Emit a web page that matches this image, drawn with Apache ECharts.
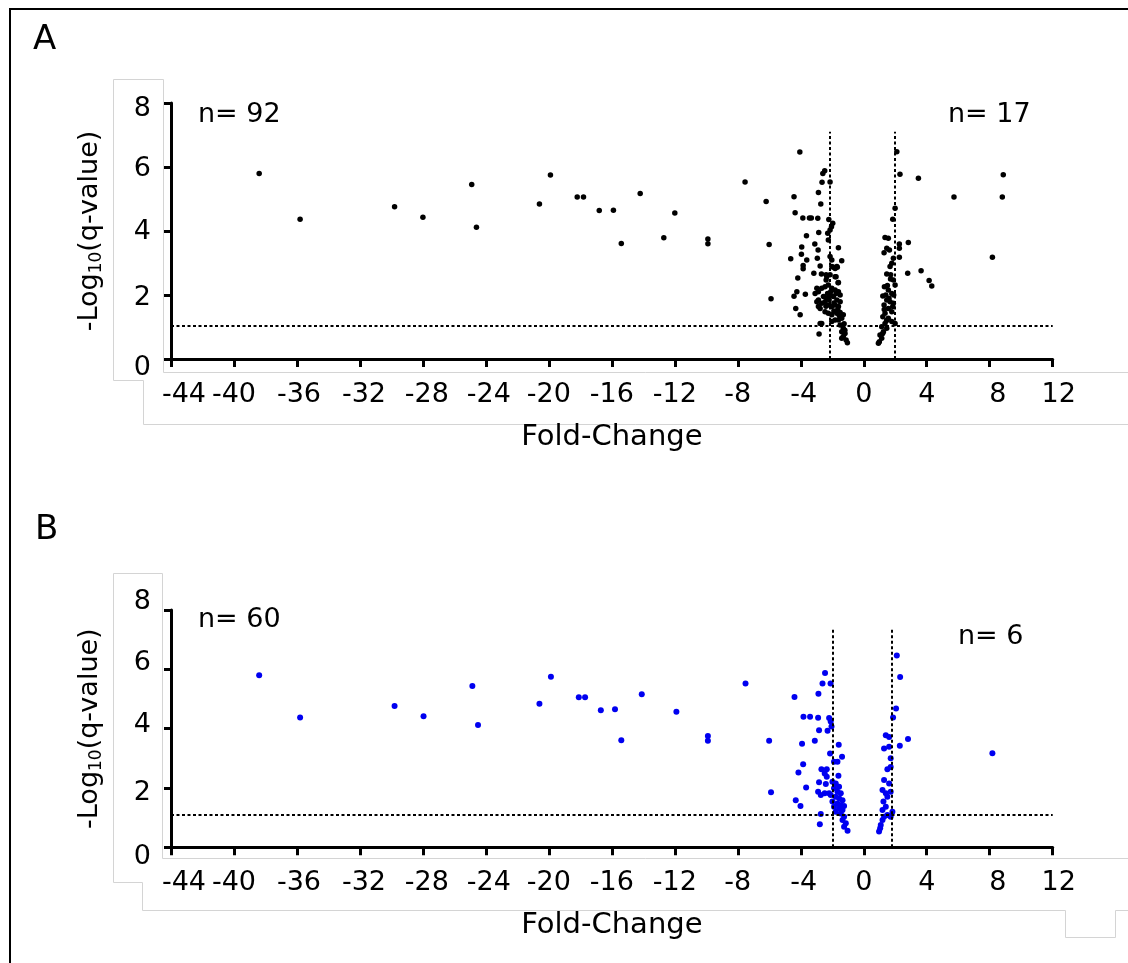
<!DOCTYPE html>
<html><head><meta charset="utf-8">
<script src="https://cdn.jsdelivr.net/npm/echarts@6/dist/echarts.min.js"></script>
<style>html,body{margin:0;padding:0;background:#fff}#c{width:1128px;height:963px}</style>
</head><body><div id="c"></div>
<script>
// ---------------- data ----------------
const xTickLabels = [-44,-40,-36,-32,-28,-24,-20,-16,-12,-8,-4,0,4,8,12];
const yTickLabels = [0,2,4,6,8];
const xAxisTitle = 'Fold-Change';
const yAxisTitle = '-Log{s|10}(q-value)';
const panelLabels = ['A','B'];
const countLabelsA = ['n= 92','n= 17'];
const countLabelsB = ['n= 60','n= 6'];

const qThresholdA = 1.05;
const foldLinesA = [-2.13, 1.94];
const lineTopA = 7.1;
const qThresholdB = 1.1;
const foldLinesB = [-1.95, 1.8];
const lineTopB = 7.34;

const pointsA = [
 [-38.4,5.80],[-35.8,4.37],[-29.8,4.76],[-28.0,4.43],[-24.9,5.45],[-24.6,4.12],[-20.6,4.84],[-19.9,5.75],
 [-18.2,5.06],[-17.8,5.06],[-16.8,4.64],[-15.9,4.65],[-15.4,3.61],[-14.2,5.17],[-12.7,3.79],[-12.0,4.56],
 [-9.9,3.75],[-9.9,3.60],
 [-7.54,5.53],[-6.2,4.92],[-6.01,3.58],[-5.89,1.88],
 [-4.06,6.47],[-4.43,5.07],[-4.36,4.57],[-4.64,3.13],[-4.43,1.96],[-4.25,2.10],[-4.32,1.58],[-4.04,1.38],[-4.19,2.53],
 [-3.87,4.41],[-3.45,4.41],[-3.33,4.41],[-2.92,4.40],[-3.64,3.85],[-3.94,3.50],[-3.96,3.27],[-3.62,3.09],
 [-3.85,2.92],[-3.85,2.82],[-3.71,2.02],[-3.17,2.68],[-3.11,3.59],
 [-2.88,5.20],[-2.73,4.84],[-2.65,5.52],[-2.60,5.80],[-2.48,5.88],[-2.86,3.95],[-2.90,3.41],[-2.95,3.15],
 [-2.77,2.91],[-2.69,2.66],[-2.39,2.63],[-2.84,0.78],[-2.77,1.11],
 [-2.14,5.53],[-2.22,4.36],[-1.97,4.24],[-2.05,4.13],[-2.14,4.03],[-2.29,3.93],[-2.25,3.72],[-1.61,3.48],
 [-1.40,3.07],[-1.68,2.87],[-1.93,2.87],[-2.14,3.20],[-2.03,3.09],[-1.76,2.57],[-1.63,2.38],
 [-2.67,2.21],[-2.88,2.10],[-3.09,2.05],[-2.46,2.26],[-2.25,2.31],[-2.03,2.21],[-1.82,2.16],[-1.61,2.10],
 [-1.50,2.00],[-2.56,1.95],[-2.35,1.90],[-2.14,2.00],[-1.93,1.95],[-1.71,1.84],[-1.50,1.79],[-2.88,1.84],
 [-2.67,1.74],[-2.46,1.79],[-2.25,1.69],[-2.03,1.64],[-1.82,1.69],[-1.61,1.64],[-2.46,1.48],[-2.25,1.43],
 [-2.03,1.38],[-1.71,1.43],[-1.50,1.45],[-1.30,1.38],[-1.40,1.27],[-1.61,1.22],[-1.82,1.22],[-2.03,1.17],
 [-1.50,1.06],[-1.30,0.96],[-1.40,0.85],[-1.19,0.80],[-1.30,0.70],[-1.12,0.59],[-1.04,0.51],[-1.40,0.65],
 [-2.67,1.11],[-2.35,2.57],[-2.14,2.63],[-1.82,2.57],[-1.61,2.39],[-2.39,2.47],[-2.03,2.89],[-1.82,2.83],
 [-1.71,2.89],[-2.98,2.21],[-2.77,1.58],[-2.98,1.79],[-2.88,1.64],
 [-2.2,1.85],[-1.9,1.75],[-2.1,2.1],[-1.75,2.05],[-2.3,2.05],[-1.65,1.55],[-1.9,1.5],[-2.4,1.65],
 [-1.55,1.35],[-1.25,1.1],[-1.2,0.9],
 [1.35,3.80],[1.56,3.77],[1.46,3.46],[1.29,3.32],[1.63,3.41],[1.78,2.99],[1.67,2.89],[1.46,2.66],
 [1.71,2.63],[1.88,2.47],[1.99,2.31],[1.31,2.26],[1.56,2.16],[1.78,2.05],[1.21,1.97],[1.46,1.84],
 [1.67,1.79],[1.88,1.74],[1.29,1.69],[1.56,1.58],[1.78,1.48],[1.35,1.43],[1.21,1.32],[1.56,1.27],
 [1.78,1.17],[1.35,1.11],[1.14,1.01],[1.46,0.96],[1.25,0.85],[1.03,0.75],[1.14,0.65],[0.99,0.54],
 [0.93,0.49],[1.84,1.64],[1.99,1.11],[1.88,3.15],[1.84,4.37],[1.99,4.71],
 [1.4,2.0],[1.5,2.3],[1.3,1.55],[1.6,1.9],[1.45,1.2],[1.2,0.8],[1.7,2.5],[1.9,2.0],
 [2.10,6.48],[2.30,5.77],[2.26,3.59],[2.26,3.46],[2.26,3.18],[2.83,3.64],[2.79,2.68],[3.64,2.76],
 [4.15,2.45],[4.32,2.28],[3.47,5.65],[5.73,5.06],[8.86,5.76],[8.80,5.06],[8.17,3.18]
];

const pointsB = [
 [-38.4,5.80],[-35.8,4.38],[-29.8,4.76],[-27.96,4.42],[-24.86,5.44],[-24.5,4.12],[-20.6,4.84],[-19.87,5.75],
 [-18.1,5.06],[-17.7,5.06],[-16.7,4.62],[-15.8,4.65],[-15.4,3.61],[-14.1,5.16],[-11.9,4.57],[-9.9,3.75],[-9.9,3.59],
 [-7.51,5.52],[-6.01,3.59],[-5.89,1.86],[-4.40,5.07],[-3.92,3.49],[-3.85,2.80],[-4.15,2.52],[-4.32,1.59],
 [-4.02,1.39],[-3.66,2.02],[-3.83,4.40],[-3.41,4.40],[-2.90,4.37],[-3.11,3.59],[-2.84,3.95],[-2.30,3.93],
 [-2.88,5.18],[-2.62,5.52],[-2.46,5.88],[-2.11,5.52],[-2.20,4.36],[-2.10,4.24],[-2.05,4.07],[-2.14,3.16],
 [-1.59,3.46],[-1.38,3.05],[-1.67,2.88],[-1.89,2.88],[-1.61,2.41],[-2.84,2.19],[-2.41,2.13],[-2.69,2.63],
 [-2.35,2.63],[-2.48,2.49],[-2.35,2.38],[-2.73,1.12],[-2.79,0.78],
 [-1.99,2.21],[-1.78,2.15],[-1.57,2.04],[-1.89,1.99],[-1.67,1.87],[-1.46,1.82],[-2.10,1.76],[-1.78,1.70],
 [-1.57,1.65],[-1.35,1.59],[-1.99,1.54],[-1.67,1.48],[-1.46,1.42],[-1.25,1.39],[-1.89,1.37],[-1.57,1.31],
 [-1.35,1.26],[-1.78,1.20],[-1.46,1.14],[-1.25,1.03],[-1.35,0.92],[-1.14,0.81],[-1.25,0.69],[-1.03,0.56],
 [-2.90,1.87],[-2.73,1.76],[-2.48,1.82],[-2.20,1.82],
 [2.10,6.47],[2.31,5.74],[2.05,4.68],[1.86,4.38],[2.81,3.65],[2.29,3.42],[8.17,3.17],
 [1.40,3.78],[1.61,3.72],[1.29,3.33],[1.61,3.39],[1.71,3.00],[1.50,2.63],[1.71,2.71],[1.61,2.15],
 [1.29,2.27],[1.19,1.93],[1.40,1.82],[1.50,1.70],[1.71,1.87],[1.25,1.54],[1.40,1.37],[1.19,1.26],
 [1.50,1.09],[1.29,1.03],[1.19,0.92],[1.08,0.75],[1.04,0.64],[0.97,0.53],[1.82,1.20],[1.71,1.03]
];

// ---------------- styling / layout ----------------
const FONT = 'DejaVu Sans';
const xLabelShift = {'-44':13,'-36':2,'-32':4,'-28':4,'-24':3,'-4':3,'8':8,'12':6};
const yLabelShiftA = {0:9,2:3,4:1,6:2,8:6};
const yLabelShiftB = {0:10,2:5,4:-4,6:-6,8:-8};
function xKey(v){ return (v < 0 ? 'm' : 'p') + Math.abs(v); }
const xRich = {};
xTickLabels.forEach(v => { const d = xLabelShift[String(v)] || 0; xRich[xKey(v)] = {padding:[0,0,0,2*d]}; });
function yRich(shift){
  const r = {};
  yTickLabels.forEach(v => { const d = shift[v] || 0; r['v'+v] = {padding: d >= 0 ? [2*d,0,0,0] : [0,0,-2*d,0]}; });
  return r;
}
function makeX(gi){
  return {gridIndex:gi, type:'value', min:xTickLabels[0], max:xTickLabels[xTickLabels.length-1], interval:4,
    axisLine:{show:true, onZero:false, lineStyle:{color:'#000', width:3}},
    axisTick:{show:true, length:8, lineStyle:{color:'#000', width:3}},
    splitLine:{show:false},
    axisLabel:{margin:22, color:'#000', fontFamily:FONT, fontSize:27,
      formatter: v => '{' + xKey(v) + '|' + v + '}', rich:xRich},
    name:xAxisTitle, nameLocation:'middle', nameGap:64,
    nameTextStyle:{color:'#000', fontFamily:FONT, fontSize:29}};
}
function makeY(gi, shift){
  return {gridIndex:gi, type:'value', min:yTickLabels[0], max:yTickLabels[yTickLabels.length-1], interval:2,
    axisLine:{show:true, onZero:false, lineStyle:{color:'#000', width:3}},
    axisTick:{show:true, length:7, lineStyle:{color:'#000', width:3}},
    splitLine:{show:false},
    axisLabel:{margin:20, color:'#000', fontFamily:FONT, fontSize:27,
      formatter: v => '{v' + v + '|' + v + '}', rich:yRich(shift)},
    name:yAxisTitle, nameLocation:'middle', nameGap:66, nameRotate:90,
    nameTextStyle:{color:'#000', fontFamily:FONT, fontSize:27,
      rich:{s:{fontSize:17, fontFamily:FONT, color:'#000', padding:[14,0,0,0]}}}};
}
function refLines(th, folds, top){
  return {silent:true, symbol:'none', label:{show:false},
    lineStyle:{color:'#000', width:2, type:[3,2.5], opacity:1},
    emphasis:{disabled:true},
    data:[[{coord:[xTickLabels[0], th]},{coord:[xTickLabels[xTickLabels.length-1], th]}]]
      .concat(folds.map(f => [{coord:[f, 0]},{coord:[f, top]}]))};
}
const grayLine = (pts) => ({type:'polyline', silent:true, z:-5, shape:{points:pts},
  style:{stroke:'#d4d4d4', fill:null, lineWidth:1}});
const txt = (s, x, y, size) => ({type:'text', silent:true, x:x, y:y,
  style:{text:s, fill:'#000', font: size + 'px "' + FONT + '"', textAlign:'left', textVerticalAlign:'middle'}});

const option = {
  animation:false,
  backgroundColor:'#fff',
  grid:[
    {left:171, top:103, width:881.7, height:256, containLabel:false},
    {left:171, top:610, width:881.7, height:237.3, containLabel:false}
  ],
  xAxis:[makeX(0), makeX(1)],
  yAxis:[makeY(0, yLabelShiftA), makeY(1, yLabelShiftB)],
  series:[
    {type:'scatter', xAxisIndex:0, yAxisIndex:0, data:pointsA, symbolSize:5.5,
      itemStyle:{color:'#000', opacity:1}, emphasis:{disabled:true},
      markLine:refLines(qThresholdA, foldLinesA, lineTopA)},
    {type:'scatter', xAxisIndex:1, yAxisIndex:1, data:pointsB, symbolSize:6,
      itemStyle:{color:'#0000f0', opacity:1}, emphasis:{disabled:true},
      markLine:refLines(qThresholdB, foldLinesB, lineTopB)}
  ],
  graphic:[
    {type:'rect', silent:true, z:-10, shape:{x:10, y:9, width:1300, height:1100},
      style:{fill:null, stroke:'#000', lineWidth:2}},
    grayLine([[113.5,380.5],[113.5,79.5],[163.5,79.5],[163.5,372.5],[1128,372.5]]),
    grayLine([[113.5,380.5],[143.5,380.5],[143.5,424.5],[1128,424.5]]),
    grayLine([[113.5,882.5],[113.5,573.5],[162.5,573.5],[162.5,858.5],[1128,858.5]]),
    grayLine([[113.5,882.5],[142.5,882.5],[142.5,910.5],[1065.5,910.5],[1065.5,937.5],[1115.5,937.5],[1115.5,910.5],[1128,910.5]]),
    txt(panelLabels[0], 33, 40, 34),
    txt(panelLabels[1], 35, 530, 34),
    txt(countLabelsA[0], 198, 115, 27),
    txt(countLabelsA[1], 948, 115, 27),
    txt(countLabelsB[0], 198, 620, 27),
    txt(countLabelsB[1], 958, 637, 27)
  ]
};
const chart = echarts.init(document.getElementById('c'), null, {renderer:'canvas'});
chart.setOption(option);
</script>
</body></html>
